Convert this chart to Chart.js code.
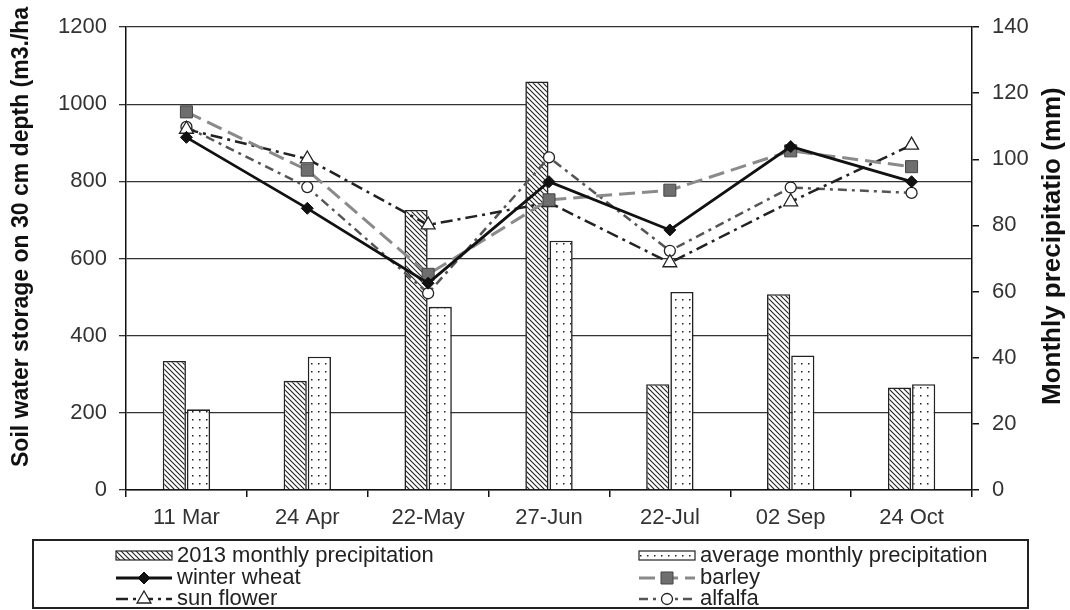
<!DOCTYPE html>
<html>
<head>
<meta charset="utf-8">
<script src="https://cdn.jsdelivr.net/npm/chart.js@4.4.0/dist/chart.umd.min.js"></script>
<style>
  body { margin: 0; background: #fff; }
  #wrap { width: 1070px; height: 610px; }
</style>
</head>
<body>
<div id="wrap"><canvas id="chart" width="1070" height="610"></canvas></div>
<script>
// Data
const dates = ['11 Mar', '24 Apr', '22-May', '27-Jun', '22-Jul', '02 Sep', '24 Oct'];
const precip2013 = [39, 33, 84.7, 123.5, 32, 59.2, 31];
const precipAvg = [24.4, 40.3, 55.4, 75.4, 59.9, 40.7, 32];
const winterWheat = [914, 730, 536, 799, 674, 890, 799];
const barley = [980, 829, 559, 752, 777, 879, 838];
const sunFlower = [935, 858, 687, 745, 589, 747, 894];
const alfalfa = [941, 785, 510, 862, 620, 784, 770];
const leftTicks = [0, 200, 400, 600, 800, 1000, 1200];
const rightTicks = [0, 20, 40, 60, 80, 100, 120, 140];

const canvas = document.getElementById('chart');
const ctx = canvas.getContext('2d');
const FONT = '"Liberation Sans", Arial, sans-serif';

// fill patterns for the bars
function hatchPattern() {
    const c = document.createElement('canvas');
    c.width = 5; c.height = 5;
    const g = c.getContext('2d');
    g.fillStyle = '#fff';
    g.fillRect(0, 0, 5, 5);
    g.strokeStyle = '#222';
    g.lineWidth = 1.1;
    g.beginPath();
    g.moveTo(-1, -1); g.lineTo(6, 6);
    g.moveTo(-1, 4); g.lineTo(1, 6);
    g.moveTo(4, -1); g.lineTo(6, 1);
    g.stroke();
    return ctx.createPattern(c, 'repeat');
}

function dotPattern() {
    const c = document.createElement('canvas');
    c.width = 7; c.height = 8;
    const g = c.getContext('2d');
    g.fillStyle = '#fff';
    g.fillRect(0, 0, 7, 8);
    g.fillStyle = '#222';
    g.fillRect(3, 3, 1.5, 1.5);
    return ctx.createPattern(c, 'repeat');
}

function drawMarker(c, ds, x, y) {
    const r = ds.pointRadius;
    c.save();
    c.setLineDash([]);
    c.fillStyle = ds.pointBackgroundColor;
    c.strokeStyle = ds.pointBorderColor;
    c.lineWidth = ds.pointBorderWidth;
    c.beginPath();
    if (ds.pointStyle === 'rectRot') {
        c.moveTo(x, y - r); c.lineTo(x + r, y); c.lineTo(x, y + r); c.lineTo(x - r, y);
        c.closePath();
    } else if (ds.pointStyle === 'rect') {
        const s = r * Math.SQRT1_2;
        c.rect(x - s, y - s, 2 * s, 2 * s);
    } else if (ds.pointStyle === 'triangle') {
        c.moveTo(x, y - r);
        c.lineTo(x + r * 0.866, y + r * 0.5);
        c.lineTo(x - r * 0.866, y + r * 0.5);
        c.closePath();
    } else {
        c.arc(x, y, r, 0, Math.PI * 2);
    }
    c.fill();
    c.stroke();
    c.restore();
}

// axis titles and the boxed two-column legend
const extras = {
    id: 'extras',
    afterDraw(chart) {
        const c = chart.ctx;
        c.save();
        c.fillStyle = '#111';
        c.textBaseline = 'middle';
        c.textAlign = 'left';
        c.font = 'bold 23px ' + FONT;
        c.translate(22, 467);
        c.rotate(-Math.PI / 2);
        c.fillText('Soil water storage on 30 cm depth (m3./ha', 0, 0);
        c.restore();

        c.save();
        c.fillStyle = '#111';
        c.textBaseline = 'middle';
        c.textAlign = 'left';
        c.font = 'bold 26px ' + FONT;
        c.translate(1053, 405);
        c.rotate(-Math.PI / 2);
        c.fillText('Monthly precipitatio (mm)', 0, 0);
        c.restore();

        c.save();
        c.strokeStyle = '#222';
        c.lineWidth = 2;
        c.strokeRect(33, 540, 995, 68);
        const slots = [[116, 556], [639, 556], [116, 578], [639, 578], [116, 599], [639, 599]];
        chart.data.datasets.forEach((ds, i) => {
            const [x, y] = slots[i];
            if (ds.type === 'bar') {
                c.fillStyle = ds.backgroundColor;
                c.fillRect(x, y - 5, 56, 9);
                c.strokeStyle = '#222';
                c.lineWidth = 1.2;
                c.strokeRect(x, y - 5, 56, 9);
            } else {
                c.strokeStyle = ds.borderColor;
                c.lineWidth = ds.borderWidth;
                c.setLineDash(ds.borderDash || []);
                c.beginPath();
                c.moveTo(x, y);
                c.lineTo(x + 56, y);
                c.stroke();
                c.setLineDash([]);
                drawMarker(c, ds, x + 28, y);
            }
            c.fillStyle = '#222';
            c.font = '22px ' + FONT;
            c.textBaseline = 'middle';
            c.fillText(ds.label, x + 61, y);
        });
        c.restore();
    }
};

const datasets = [
    {
        type: 'bar', label: '2013 monthly precipitation', data: precip2013, yAxisID: 'y1',
        backgroundColor: hatchPattern(), borderColor: '#222', borderWidth: 1.6,
        categoryPercentage: 0.4, barPercentage: 0.96, order: 2
    },
    {
        type: 'bar', label: 'average monthly precipitation', data: precipAvg, yAxisID: 'y1',
        backgroundColor: dotPattern(), borderColor: '#222', borderWidth: 1.6,
        categoryPercentage: 0.4, barPercentage: 0.96, order: 2
    },
    {
        type: 'line', label: 'winter wheat', data: winterWheat, yAxisID: 'y',
        borderColor: '#111', borderWidth: 2.8, borderDash: [],
        pointStyle: 'rectRot', pointRadius: 6, pointBackgroundColor: '#111',
        pointBorderColor: '#111', pointBorderWidth: 1, order: 0
    },
    {
        type: 'line', label: 'barley', data: barley, yAxisID: 'y',
        borderColor: '#8a8a8a', borderWidth: 3, borderDash: [16, 7],
        pointStyle: 'rect', pointRadius: 8.5, pointBackgroundColor: '#6e6e6e',
        pointBorderColor: '#444', pointBorderWidth: 1, order: 1
    },
    {
        type: 'line', label: 'sun flower', data: sunFlower, yAxisID: 'y',
        borderColor: '#222', borderWidth: 2.5, borderDash: [12, 5, 3, 5],
        pointStyle: 'triangle', pointRadius: 8, pointBackgroundColor: '#fff',
        pointBorderColor: '#222', pointBorderWidth: 1.3, order: 1
    },
    {
        type: 'line', label: 'alfalfa', data: alfalfa, yAxisID: 'y',
        borderColor: '#555', borderWidth: 2.5, borderDash: [9, 5, 3, 5],
        pointStyle: 'circle', pointRadius: 5.5, pointBackgroundColor: '#fff',
        pointBorderColor: '#222', pointBorderWidth: 1.3, order: 1
    }
];

new Chart(ctx, {
    data: { labels: dates, datasets: datasets },
    plugins: [extras],
    options: {
        responsive: false,
        animation: false,
        layout: { padding: { top: 27, bottom: 70, left: 0, right: 0 } },
        plugins: { legend: { display: false }, tooltip: { enabled: false } },
        elements: { line: { tension: 0 } },
        scales: {
            x: {
                offset: true,
                grid: { display: true, drawOnChartArea: false, offset: true, color: '#111', lineWidth: 1.5, tickLength: 7 },
                border: { color: '#111', width: 1.5 },
                ticks: { color: '#333', font: { family: FONT, size: 22 }, padding: 8, maxRotation: 0 },
                afterFit(scale) { scale.height = 50; }
            },
            y: {
                position: 'left', min: 0, max: 1200,
                grid: { color: '#333', lineWidth: 1.3, tickLength: 7 },
                border: { color: '#111', width: 1.5 },
                afterBuildTicks(scale) { scale.ticks = leftTicks.map(v => ({ value: v })); },
                ticks: { color: '#333', font: { family: FONT, size: 22 }, padding: 12, callback: v => String(v) },
                afterFit(scale) { scale.width = 126; }
            },
            y1: {
                position: 'right', min: 0, max: 140,
                grid: { drawOnChartArea: false, color: '#111', lineWidth: 1.5, tickLength: 7 },
                border: { color: '#111', width: 1.5 },
                afterBuildTicks(scale) { scale.ticks = rightTicks.map(v => ({ value: v })); },
                ticks: { color: '#333', font: { family: FONT, size: 22 }, padding: 13, callback: v => String(v) },
                afterFit(scale) { scale.width = 98; }
            }
        }
    }
});
</script>
</body>
</html>
